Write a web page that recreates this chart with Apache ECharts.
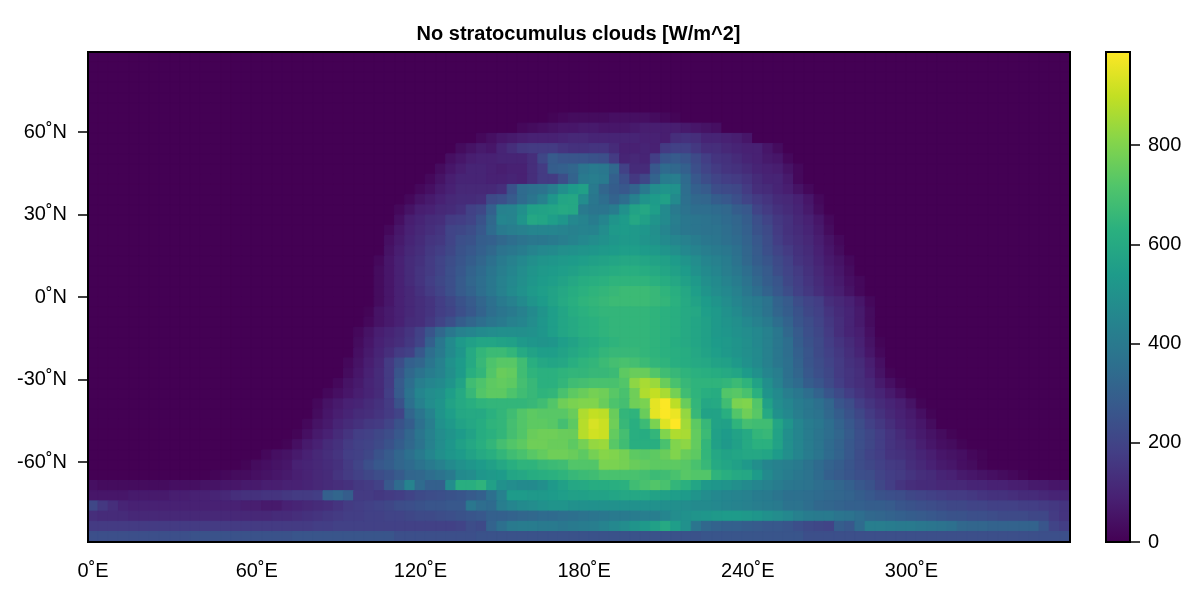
<!DOCTYPE html>
<html>
<head>
<meta charset="utf-8">
<style>html,body{margin:0;padding:0;background:#fff}#chart{width:1200px;height:600px}</style>
<script src="https://cdn.jsdelivr.net/npm/echarts@6/dist/echarts.min.js"></script>
</head>
<body>
<div id="chart"></div>
<script>
const chartTitle = 'No stratocumulus clouds [W/m^2]';
const latTicks = [-60, -30, 0, 30, 60];
const colorTicks = [0, 200, 400, 600, 800];
const colorMax = 988;
const viridis = ['#440154','#482173','#433e85','#38588c','#2d708e','#25858e','#1e9b8a','#2ab07f','#51c56a','#85d54a','#c2df23','#fde725'];
const latitudes = [87.16,83.48,79.78,76.07,72.36,68.65,64.94,61.23,57.52,53.81,50.10,46.39,42.68,38.97,35.26,31.54,27.83,24.12,20.41,16.70,12.99,9.28,5.57,1.86,-1.86,-5.57,-9.28,-12.99,-16.70,-20.41,-24.12,-27.83,-31.54,-35.26,-38.97,-42.68,-46.39,-50.10,-53.81,-57.52,-61.23,-64.94,-68.65,-72.36,-76.07,-79.78,-83.48,-87.16];

// First longitude column holding a non-zero value in each latitude row (row 0 = northernmost); everything else is 0.
const rowStart = [0,0,0,0,0,0,45,42,38,36,35,34,33,32,31,30,30,29,29,29,28,28,28,28,28,27,27,26,26,26,25,25,24,23,22,22,21,20,19,17,15,12,0,0,0,0,0,0];
const r06 = [10,20,30,30,30,30,40,40,40,40,30,20,10];
const r07 = [20,30,40,50,60,60,70,70,60,60,60,70,80,80,80,80,70,60,50,40];
const r08 = [20,40,60,70,80,90,90,90,100,110,110,100,100,100,100,100,90,90,80,130,140,130,100,100,90,80,60];
const r09 = [30,50,70,60,100,130,160,170,170,170,150,140,140,150,150,120,90,90,100,90,170,190,190,160,130,130,110,100,90,90,60,30];
const r10 = [40,60,80,90,90,100,100,100,130,210,280,260,260,260,250,240,170,100,110,100,180,260,280,260,220,180,150,140,120,100,90,70,60,20];
const r11 = [30,60,80,100,100,90,80,90,90,130,170,290,300,320,380,400,390,330,190,120,120,270,340,330,300,240,200,170,150,140,120,100,90,80,50,20];
const r12 = [20,50,80,100,100,100,90,90,100,90,130,170,170,230,310,400,420,400,300,240,160,210,310,410,420,340,270,230,200,180,170,150,120,100,100,70,20];
const r13 = [20,40,70,90,110,110,110,110,130,250,340,360,370,420,490,540,560,400,320,290,270,310,400,480,510,500,350,300,280,230,220,210,170,130,120,100,80,50,20];
const r14 = [20,50,70,90,110,120,120,130,220,240,280,340,380,430,520,580,590,480,390,350,310,350,430,510,540,560,470,360,330,320,290,270,240,200,170,150,120,110,90,60,20];
const r15 = [20,50,80,90,110,120,140,190,210,300,430,440,490,560,570,580,600,590,400,380,380,410,500,570,590,550,470,400,370,350,350,340,330,290,270,200,170,140,120,100,70,30];
const r16 = [40,80,100,120,130,170,180,200,250,330,450,440,510,590,580,550,520,460,440,410,450,510,540,590,560,510,470,420,390,380,370,360,340,320,290,240,200,160,140,110,90,60,20];
const r17 = [20,60,90,110,130,150,200,210,230,270,340,400,420,430,450,450,450,440,430,440,440,480,530,540,530,520,490,450,410,390,380,370,370,350,330,300,250,220,170,140,120,100,70,30];
const r18 = [40,70,100,120,150,160,200,240,250,290,300,330,350,370,390,390,400,420,440,460,480,500,520,530,530,510,500,470,450,430,410,390,380,360,340,310,270,230,180,150,130,110,80,50,20];
const r19 = [50,80,110,130,160,180,210,250,270,300,330,370,390,410,440,460,470,490,500,510,520,530,540,550,550,540,530,510,490,460,440,420,400,390,360,320,280,240,200,170,140,120,90,60,30];
const r20 = [20,60,90,120,140,170,200,230,260,290,320,360,400,430,460,490,510,520,530,540,550,560,570,580,590,590,580,570,560,540,510,480,450,430,410,370,330,290,260,220,190,150,130,100,70,50,20];
const r21 = [30,60,90,120,150,170,200,240,270,310,340,380,420,450,480,510,530,540,550,560,580,590,600,610,620,620,610,600,580,560,540,500,470,450,420,390,350,310,280,230,200,170,140,110,80,60,30];
const r22 = [30,60,90,120,150,180,210,240,280,320,350,390,430,460,490,520,540,550,570,590,610,620,630,640,640,640,640,630,610,590,560,530,490,470,440,410,370,330,290,260,210,180,150,120,90,70,40,20];
const r23 = [30,60,90,110,140,170,200,240,280,310,350,390,430,470,500,530,550,570,590,610,630,640,650,660,670,670,670,660,640,620,590,550,510,480,460,430,390,350,310,270,230,190,160,130,100,80,50,20];
const r24 = [30,60,90,110,130,150,180,210,250,280,320,360,400,430,470,510,540,570,600,620,640,650,660,670,670,670,670,660,650,630,600,570,540,510,480,450,420,400,370,310,280,230,200,180,130,110,90,60,20];
const r25 = [10,50,70,90,110,130,150,180,200,240,270,310,350,380,400,430,470,510,550,580,610,630,640,650,650,650,650,650,640,630,620,600,590,550,530,500,470,430,410,370,320,290,250,210,190,150,120,100,70,30];
const r26 = [20,50,70,90,120,130,160,200,240,290,320,350,380,400,430,450,480,520,550,580,600,620,630,640,650,650,650,650,640,630,620,600,580,560,530,510,490,460,430,400,350,310,260,230,200,160,130,100,70,30];
const r27 = [20,50,80,100,120,150,190,260,330,390,430,450,470,480,490,490,490,500,520,550,580,600,620,630,640,650,650,650,650,640,630,620,600,580,560,530,520,500,480,460,430,390,330,280,240,210,170,130,100,80,40];
const r28 = [30,60,90,110,130,160,200,300,390,470,530,560,580,580,570,560,530,520,510,520,550,570,600,610,630,640,650,650,650,640,630,610,600,580,560,540,530,510,490,460,430,390,350,290,250,220,180,150,120,90,50,10];
const r29 = [40,70,100,130,170,190,270,350,400,470,520,600,650,670,670,650,600,570,550,550,570,590,610,630,650,660,660,660,650,640,630,620,610,590,570,550,530,510,490,470,430,390,350,300,260,220,190,160,130,100,60,20];
const r30 = [20,50,80,110,170,230,300,320,380,430,500,540,600,660,710,730,730,680,620,590,580,590,620,640,650,670,690,700,690,670,650,640,620,610,600,590,570,560,530,500,470,430,390,360,310,260,230,200,170,140,120,80,40];
const r31 = [30,60,90,120,170,260,330,370,410,440,490,540,620,650,720,760,750,680,640,630,630,640,650,650,660,660,670,740,760,760,720,680,660,640,630,620,610,600,580,540,500,450,420,360,320,270,240,210,170,150,130,90,50,10];
const r32 = [20,50,70,100,120,170,280,350,420,450,470,510,570,680,710,740,750,740,690,660,630,630,650,680,690,700,700,700,720,820,860,840,760,700,660,640,640,640,650,670,640,570,490,430,370,340,290,260,220,180,150,130,110,70,40,10];
const r33 = [20,40,60,80,100,120,180,280,370,450,480,500,550,600,660,720,740,740,710,680,660,640,650,700,740,760,780,770,730,700,770,870,900,860,780,680,640,620,610,720,730,700,630,510,470,420,390,350,310,260,220,180,150,120,100,70,40,10];
const r34 = [20,50,70,90,100,120,140,170,250,360,430,480,510,570,600,620,640,650,650,650,650,660,680,720,770,790,800,800,760,710,690,770,790,950,985,890,760,650,590,600,680,790,800,720,560,480,450,410,390,360,320,260,230,180,150,120,100,80,50,10];
const r35 = [30,60,80,100,120,130,150,170,200,320,380,440,510,550,590,600,600,630,650,680,720,740,730,730,730,760,870,900,890,760,650,640,760,950,985,960,830,660,570,570,620,720,770,730,600,500,460,420,390,370,330,290,250,210,170,140,110,90,70,40,10];
const r36 = [20,50,70,100,120,140,160,170,200,250,290,360,420,500,530,570,590,610,640,650,690,720,740,740,730,690,740,880,930,910,770,660,620,670,790,940,988,850,740,660,570,560,640,690,680,680,580,510,450,410,390,350,310,270,230,190,160,130,100,80,60,30];
const r37 = [10,40,70,90,120,150,180,190,210,230,270,320,380,430,480,510,540,570,610,630,650,690,720,760,770,770,760,760,880,920,910,750,690,620,610,650,800,870,860,750,670,560,540,570,600,650,660,570,490,450,410,380,350,320,280,240,210,180,150,120,90,70,50,30,10];
const r38 = [10,40,70,90,120,140,170,190,200,220,250,290,330,370,430,480,520,560,590,620,650,690,720,740,770,770,760,760,740,780,830,840,730,680,620,620,620,700,800,820,750,650,560,530,560,600,630,630,570,490,450,410,380,340,310,270,240,210,180,150,130,110,80,60,40,30,10];
const r39 = [20,40,50,70,90,110,130,150,180,190,210,250,280,320,360,400,450,490,520,540,570,600,620,650,680,700,730,750,770,770,760,740,780,810,800,780,740,730,740,760,800,760,740,650,590,570,580,590,590,580,540,490,450,410,380,340,310,270,230,200,180,150,140,120,100,80,60,50,40,20,10];
const r40 = [10,30,40,50,60,90,100,110,125,140,170,200,240,270,290,320,340,370,400,430,470,500,520,540,560,590,620,640,640,660,670,680,720,720,720,790,790,780,760,750,740,740,740,730,700,660,600,580,560,530,490,450,430,420,400,370,340,310,290,260,230,210,190,170,160,130,110,90,70,60,40,30,10];
const r41 = [10,20,30,30,40,50,60,70,85,95,110,120,150,170,190,210,230,250,280,320,330,350,370,400,470,480,520,530,540,580,590,610,620,630,640,660,670,680,700,700,700,700,690,670,680,700,730,720,720,640,620,600,590,540,470,430,410,390,370,340,300,280,260,240,230,200,180,170,150,130,120,100,90,70,60,50,40,30,20,10];
const r42 = [40,30,30,30,30,30,30,30,40,40,40,50,50,60,60,70,70,80,80,90,90,100,110,120,130,140,160,170,190,270,340,440,340,300,300,480,620,620,640,560,500,480,470,470,490,530,560,590,600,610,610,620,630,680,700,720,700,650,630,580,530,520,510,490,470,450,430,410,390,380,370,350,340,320,300,270,250,210,180,150,130,120,120,110,110,110,100,100,90,90,80,80,70,70,60,60];
const r43 = [60,60,60,60,70,70,70,70,80,80,90,90,100,110,130,140,140,150,150,160,170,170,180,300,320,290,170,170,160,170,180,200,220,230,240,250,260,280,300,360,430,540,540,530,530,540,550,560,560,570,570,580,590,590,590,570,560,550,540,510,480,460,450,440,430,410,400,380,360,360,350,340,330,320,310,290,270,250,240,230,210,200,190,180,170,170,160,150,140,140,130,120,120,110,100,100];
const r44 = [210,160,130,100,90,90,90,90,90,90,90,90,90,90,90,80,80,70,70,90,100,110,120,130,150,170,180,190,200,210,230,240,250,260,260,270,270,390,350,340,420,450,470,480,500,510,510,500,500,500,500,500,500,500,500,500,490,490,480,470,470,460,450,440,430,420,410,400,370,370,350,330,320,310,300,300,290,290,280,260,250,240,230,220,210,210,200,200,190,190,190,180,180,170,160,150];
const r45 = [130,120,120,120,110,110,110,110,110,110,110,110,110,110,110,110,110,110,120,120,130,140,150,160,170,180,180,190,190,200,200,210,220,220,230,240,250,260,270,300,300,310,320,330,340,340,350,360,370,380,390,400,400,410,420,420,450,480,500,510,520,530,540,540,530,520,500,480,460,430,410,400,400,380,370,350,330,320,310,300,290,280,270,260,250,250,240,240,230,220,220,220,210,210,170,150];
const r46 = [170,170,170,170,170,170,170,170,170,170,170,170,170,170,170,170,170,170,170,170,170,170,180,180,190,190,190,190,190,190,190,190,190,190,190,190,200,230,220,310,360,400,410,410,400,400,390,400,410,420,440,460,480,510,530,560,600,550,500,380,330,310,300,300,290,280,270,270,260,240,220,210,200,290,270,340,420,420,410,400,400,390,380,370,360,330,320,320,310,310,310,310,310,260,200,180];
const r47 = [240,240,240,240,240,240,240,240,240,240,250,250,250,250,250,250,250,250,250,250,260,260,260,260,260,260,260,260,260,260,240,240,240,240,240,240,240,240,250,250,250,250,250,250,250,250,250,250,250,250,250,250,250,250,250,250,250,250,250,250,260,260,260,260,260,260,260,260,260,260,240,240,240,240,240,240,240,240,240,240,240,240,240,240,240,240,240,240,240,240,240,240,240,240,240,240];

const litRows = {6:r06,7:r07,8:r08,9:r09,10:r10,11:r11,12:r12,13:r13,14:r14,15:r15,16:r16,17:r17,18:r18,19:r19,20:r20,21:r21,22:r22,23:r23,24:r24,25:r25,26:r26,27:r27,28:r28,29:r29,30:r30,31:r31,32:r32,33:r33,34:r34,35:r35,36:r36,37:r37,38:r38,39:r39,40:r40,41:r41,42:r42,43:r43,44:r44,45:r45,46:r46,47:r47};

const longitudes = [];
for (let c = 0; c < 96; c++) longitudes.push(c * 3.75);

const cells = [];
for (let r = 0; r < latitudes.length; r++) {
  const row = litRows[r] || [];
  for (let c = 0; c < longitudes.length; c++) {
    const v = row[c - rowStart[r]];
    const value = v === undefined ? 0 : v;
    const shade = echarts.color.lerp(value / colorMax, viridis);
    cells.push({value: [c, r, value], itemStyle: {color: shade, borderColor: shade, borderWidth: 1}});
  }
}

const FONT = '"Liberation Sans", Arial, sans-serif';
const labelStyle = {color: '#000', fontSize: 20, fontFamily: FONT};
const tickStyle = {color: '#000', width: 1.5};
const chart = echarts.init(document.getElementById('chart'), null, {renderer: 'canvas'});
const stops = viridis.map((c, i) => ({offset: i / (viridis.length - 1), color: c}));

chart.setOption({
  animation: false,
  backgroundColor: '#fff',
  title: {
    text: chartTitle, left: 573.5, top: 19, textAlign: 'center',
    textStyle: {color: '#000', fontSize: 20, fontWeight: 'bold', fontFamily: FONT}
  },
  grid: [
    {left: 88, right: 130, top: 52, bottom: 58, show: true, z: 10, backgroundColor: 'transparent', borderColor: '#000', borderWidth: 2},
    {left: 1106, right: 70, top: 52, bottom: 58, show: true, z: 10, backgroundColor: 'transparent', borderColor: '#000', borderWidth: 2}
  ],
  xAxis: [
    {
      type: 'category', gridIndex: 0, data: longitudes, boundaryGap: true, position: 'bottom',
      axisLine: {show: false}, splitLine: {show: false},
      axisTick: {show: true, alignWithLabel: true, interval: 15, length: 10, lineStyle: tickStyle},
      axisLabel: {show: true, interval: 15, margin: 19, formatter: v => Number(v) + '˚E', ...labelStyle}
    },
    {type: 'category', gridIndex: 1, data: ['colorbar'], axisLine: {show: false}, axisTick: {show: false}, axisLabel: {show: false}, splitLine: {show: false}}
  ],
  yAxis: [
    {type: 'category', gridIndex: 0, data: latitudes, inverse: true, axisLine: {show: false}, axisTick: {show: false}, axisLabel: {show: false}, splitLine: {show: false}},
    {
      type: 'value', gridIndex: 0, min: -89.09, max: 89.09, position: 'left',
      axisLine: {show: false}, splitLine: {show: false},
      axisTick: {show: true, customValues: latTicks, length: 10, lineStyle: tickStyle},
      axisLabel: {show: true, customValues: latTicks, margin: 21, formatter: v => v + '˚N', ...labelStyle}
    },
    {
      type: 'value', gridIndex: 1, min: 0, max: colorMax, position: 'right',
      axisLine: {show: false}, splitLine: {show: false},
      axisTick: {show: true, customValues: colorTicks, length: 10, lineStyle: tickStyle},
      axisLabel: {show: true, customValues: colorTicks, margin: 18, ...labelStyle}
    }
  ],
  series: [
    {type: 'heatmap', xAxisIndex: 0, yAxisIndex: 0, data: cells, progressive: 0, emphasis: {disabled: true}},
    {
      type: 'bar', xAxisIndex: 1, yAxisIndex: 2, data: [colorMax], barWidth: '100%',
      itemStyle: {color: new echarts.graphic.LinearGradient(0, 1, 0, 0, stops)}, silent: true
    }
  ]
});
</script>
</body>
</html>
